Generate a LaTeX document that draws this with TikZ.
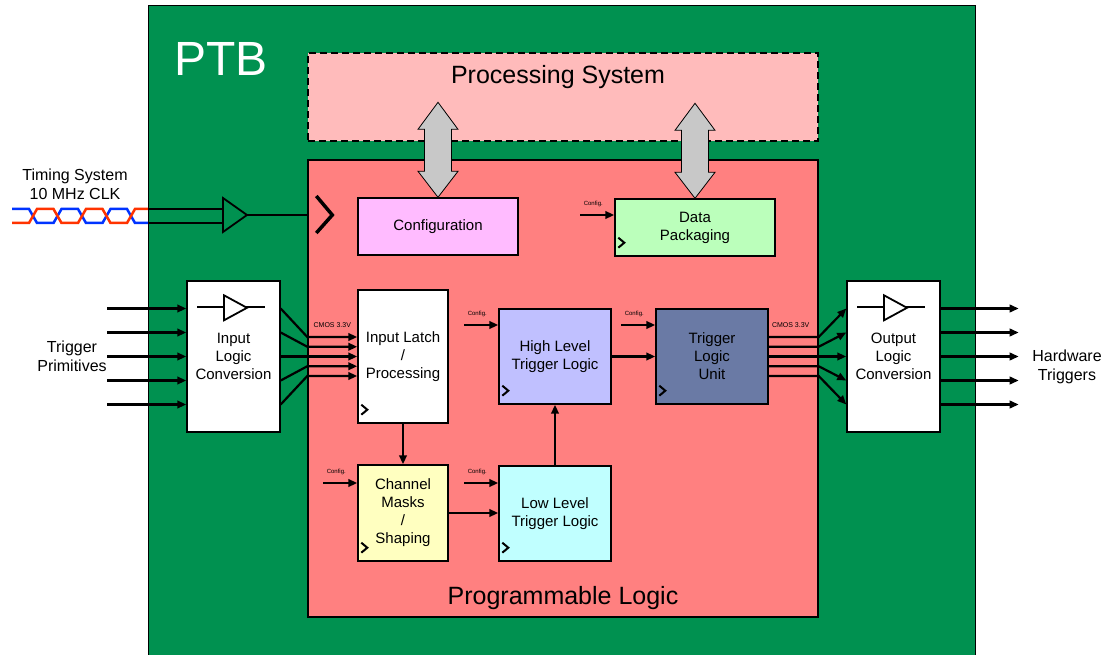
\documentclass[tikz,border=0pt]{standalone}
\usepackage{fontspec}
\setmainfont{Liberation Sans}
\usetikzlibrary{calc,positioning,arrows.meta}

\definecolor{ptbgreen}{RGB}{0,145,80}
\definecolor{pspink}{RGB}{255,187,187}
\definecolor{plred}{RGB}{255,128,128}
\definecolor{cfgpink}{RGB}{255,187,255}
\definecolor{pkgreen}{RGB}{187,255,187}
\definecolor{maskyellow}{RGB}{255,255,192}
\definecolor{lowcyan}{RGB}{192,255,255}
\definecolor{highblue}{RGB}{192,192,255}
\definecolor{tluslate}{RGB}{106,122,165}
\definecolor{busgray}{RGB}{200,200,200}
\definecolor{clkred}{RGB}{255,51,0}
\definecolor{clkblue}{RGB}{0,51,255}

\begin{document}
\begin{tikzpicture}[x=1pt, y=-1pt, >={Triangle[length=9pt,width=7.5pt]},
  block/.style={draw, line width=1.4pt, align=center, inner sep=0pt, font=\fontsize{15}{18}\selectfont},
  sig/.style={line width=2.2pt, ->},
  wire/.style={line width=2.2pt},
  clockmark/.style={line width=2pt},
  cfg/.style={font=\fontsize{6}{7}\selectfont},
  outer/.style={align=center, font=\fontsize{16}{19}\selectfont}]

\clip (0,0) rectangle (1109,655);

%board
\draw[fill=ptbgreen, line width=0.8pt] (148,5) rectangle (975,670);
\node[text=white, font=\fontsize{48}{50}\selectfont] (ptb) at (221,59) {PTB};

\node[draw, fill=pspink, line width=1.4pt, dash pattern=on 7pt off 4pt, minimum width=510pt, minimum height=88pt](ps) at (563,97){};
\node[font=\fontsize{25}{28}\selectfont] (pstext) at (558,77) {Processing System};

\node[draw, fill=plred, line width=1.4pt, minimum width=510pt, minimum height=457pt](pl) at (563,388.5){};
\node[font=\fontsize{25}{28}\selectfont] (pltext) at (563,598) {Programmable Logic};

%blocks
\node[block, fill=cfgpink, minimum width=160pt, minimum height=57pt](config) at (438,226.5){Configuration};
\node[block, fill=pkgreen, minimum width=160pt, minimum height=57pt](datapack) at (695,227.5){Data\\Packaging};

\node[block, fill=white, minimum width=93pt, minimum height=151pt](ilc) at (233.5,356.5){Input\\Logic\\Conversion};
\node[block, fill=white, minimum width=93pt, minimum height=151pt](olc) at (893.5,356.5){Output\\Logic\\Conversion};

\node[block, fill=white, minimum width=90pt, minimum height=133pt](latch) at (403,356.5){Input Latch\\/\\Processing};
\node[block, fill=maskyellow, minimum width=90pt, minimum height=96pt](masks) at (403,513){Channel\\Masks\\/\\Shaping};
\node[block, fill=lowcyan, minimum width=112pt, minimum height=95pt](lltl) at (555,513.5){Low Level\\Trigger Logic};
\node[block, fill=highblue, minimum width=112pt, minimum height=95pt](hltl) at (555,356.5){High Level\\Trigger Logic};
\node[block, fill=tluslate, minimum width=112pt, minimum height=95pt](tlu) at (712,356.5){Trigger\\Logic\\Unit};

%outside labels
\node[outer] (timing) at (75,184.5) {Timing System\\10 MHz CLK};
\node[outer] (trigprim) at (72,356) {Trigger\\Primitives};
\node[outer] (hwtrig) at (1067,367) {Hardware\\Triggers};

%bus arrows to processing system
\foreach \n in {config,datapack}
  \draw[fill=busgray, line width=0.8pt, shift={(\n.north)}] (0,0) -- (-20,-26) -- (-13.5,-26) -- (-13.5,-68) -- (-20,-68) -- (0,-95) -- (20,-68) -- (13.5,-68) -- (13.5,-26) -- (20,-26) -- cycle;

%clock input
\draw[clkblue, line width=2.5pt] (12,209) -- (29,209) -- (37,223) -- (53.5,223) -- (61.5,209) -- (78,209) -- (86,223) -- (102.5,223) -- (110.5,209) -- (127,209) -- (135,223) -- (148,223);
\draw[clkred, line width=2.5pt] (12,223) -- (29,223) -- (37,209) -- (53.5,209) -- (61.5,223) -- (78,223) -- (86,209) -- (102.5,209) -- (110.5,223) -- (127,223) -- (135,209) -- (148,209);
\coordinate (tbufin) at (223,215);
\coordinate (tbuf) at (247,215);
\draw[wire] (148,209) -- (tbufin |- 148,209);
\draw[wire] (148,223) -- (tbufin |- 148,223);
\draw[line width=1.8pt] ($(tbufin)+(0,-17)$) -- (tbuf) -- ($(tbufin)+(0,17)$) -- cycle;
\coordinate (clkin) at (tbuf -| pl.west);
\draw[wire] (tbuf) -- (clkin);
\draw[line width=3.5pt] ($(clkin)+(9,-19)$) -- ($(clkin)+(25,0)$) -- ($(clkin)+(9,18)$);

%level buffers
\foreach \n in {ilc,olc}{
  \draw[line width=1.8pt] ($(\n.north)+(-36.5,27)$) -- ++(68,0);
  \draw[line width=1.8pt, fill=white] ($(\n.north)+(-9.5,15)$) -- ++(23,12.5) -- ++(-23,12.5) -- cycle;
}

%clock marks
\foreach \n in {datapack,latch,masks,lltl,hltl,tlu}
  \draw[clockmark] ($(\n.south west)+(4,-19)$) -- ++(6,5) -- ++(-6,5);

%config inputs
\foreach \n/\dy in {datapack/-12.5, masks/-30, lltl/-30.5, hltl/-31.5, tlu/-31.5}{
  \draw[sig] ($(\n.west)+(-34,\dy)$) -- ($(\n.west)+(0,\dy)$);
  \node[cfg] at ($(\n.west)+(-21,\dy-11)$) {Config.};
}

%trigger inputs
\foreach \dy in {-48,-24,0,24,48}
  \draw[sig] ($(ilc.west)+(-79,\dy)$) -- ($(ilc.west)+(0,\dy)$);
\foreach \a/\b in {-48/-19.5,-24/-9.75,0/0,24/9.75,48/19.5}
  \draw[sig] ($(ilc.east)+(0,\a)$) -- ($(latch.west)+(-50,\b)$) -- ($(latch.west)+(0,\b)$);
\node[font=\fontsize{7}{8}\selectfont] at ($(latch.west)+(-25,-31)$) {CMOS 3.3V};

%internal flow
\draw[sig] (latch) -- (masks);
\draw[sig] (masks.east) -- (masks.east -| lltl.west);
\draw[sig] (lltl) -- (hltl);
\draw[sig] (hltl) -- (tlu);

%trigger outputs
\foreach \a/\b in {-48/-19.5,-24/-9.75,0/0,24/9.75,48/19.5}
  \draw[sig] ($(tlu.east)+(0,\b)$) -- ($(tlu.east)+(50,\b)$) -- ($(olc.west)+(0,\a)$);
\node[font=\fontsize{7}{8}\selectfont] at ($(tlu.east)+(22,-31)$) {CMOS 3.3V};
\foreach \dy in {-48,-24,0,24,48}
  \draw[sig] ($(olc.east)+(0,\dy)$) -- ++(78,0);

\end{tikzpicture}
\end{document}
